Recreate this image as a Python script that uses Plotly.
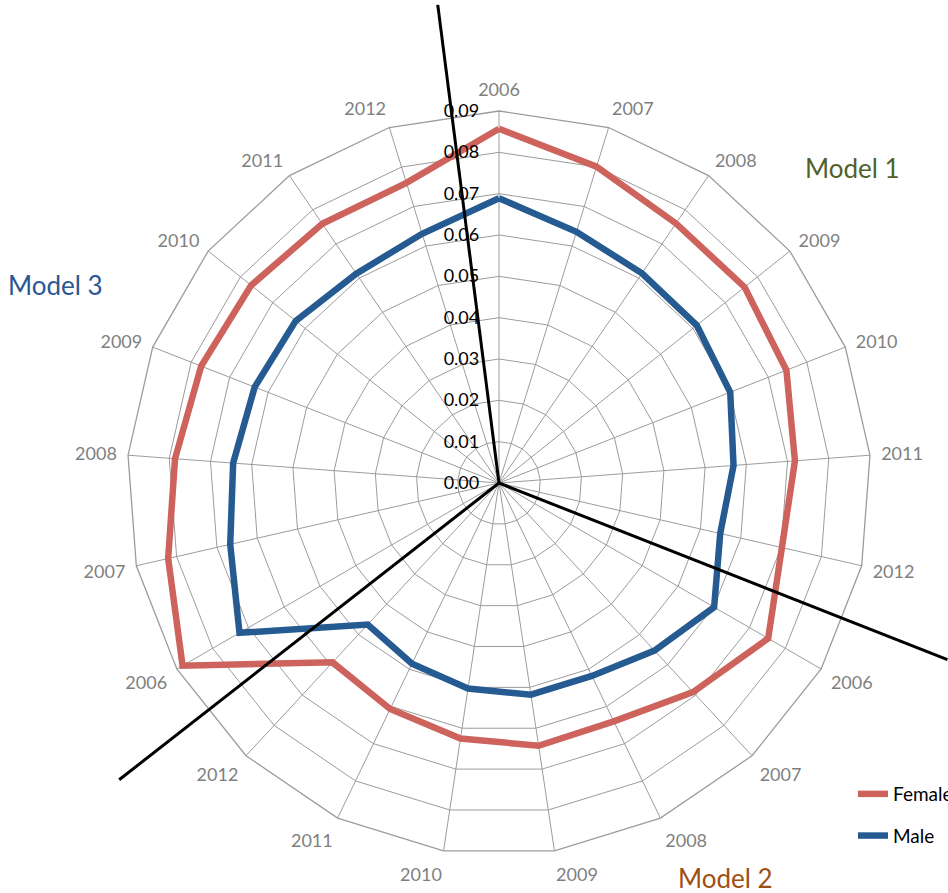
import math
import plotly.graph_objects as go

# Three models, each reported for the years 2006-2012, laid out clockwise
models = ["Model 1", "Model 2", "Model 3"]
years = ["2006", "2007", "2008", "2009", "2010", "2011", "2012"]

female = [0.0857, 0.0801, 0.0760, 0.0760, 0.0747, 0.0718, 0.0702,
          0.0752, 0.0690, 0.0640, 0.0643, 0.0625, 0.0607, 0.0592,
          0.0884, 0.0821, 0.0786, 0.0774, 0.0767, 0.0759, 0.0760]
male = [0.0689, 0.0636, 0.0614, 0.0612, 0.0601, 0.0569, 0.0549,
        0.0601, 0.0553, 0.0518, 0.0518, 0.0503, 0.0485, 0.0467,
        0.0725, 0.0667, 0.0645, 0.0635, 0.0629, 0.0613, 0.0631]

# Divider lines between model sections (degrees clockwise from 12 o'clock)
divider_angles = [-7.3, 111.5, 232.0]

model_colors = ["#4F6228", "#9E4F12", "#2A5794"]

# unique category per spoke, displayed as the year only
categories = [f"{m} {y}" for m in models for y in years]
tick_text = [y for m in models for y in years]

W, H = 948, 893
CX, CY, R = 499, 483, 372          # centre and outer radius of the web, px
FONT = "Lato, 'Open Sans', sans-serif"

fig = go.Figure()
fig.add_trace(go.Scatterpolar(
    r=female + female[:1], theta=categories + categories[:1],
    mode="lines", name="Female", legendgroup="f",
    line=dict(color="#CD635C", width=6.5),
))
fig.add_trace(go.Scatterpolar(
    r=male + male[:1], theta=categories + categories[:1],
    mode="lines", name="Male", legendgroup="m",
    line=dict(color="#265B91", width=6.5),
))

grid = "#9C9C9C"
fig.update_layout(
    width=W, height=H,
    margin=dict(l=0, r=0, t=0, b=0, autoexpand=False),
    paper_bgcolor="white",
    font=dict(family=FONT),
    polar=dict(
        domain=dict(x=[(CX - R) / W, (CX + R) / W],
                    y=[(H - CY - R) / H, (H - CY + R) / H]),
        bgcolor="white",
        gridshape="linear",
        angularaxis=dict(
            type="category", categoryorder="array", categoryarray=categories,
            rotation=90, direction="clockwise",
            tickmode="array", tickvals=categories, ticktext=tick_text,
            tickfont=dict(size=18, color="#7F7F7F", family=FONT),
            ticks="outside", ticklen=7, tickcolor="rgba(0,0,0,0)",
            showline=True, linecolor=grid, linewidth=1.3,
            gridcolor=grid, gridwidth=1.3,
        ),
        radialaxis=dict(
            range=[0, 0.09], dtick=0.01, tickformat=".2f",
            angle=90, side="counterclockwise", tickangle=90,
            tickfont=dict(size=18, color="black", family=FONT),
            ticks="outside", ticklen=13, tickcolor="rgba(0,0,0,0)",
            showline=False,
            gridcolor=grid, gridwidth=1.3,
        ),
    ),
    legend=dict(
        x=853 / W, y=(H - 775) / H, xanchor="left", yanchor="top",
        font=dict(size=19, color="black", family=FONT),
        traceorder="grouped", tracegroupgap=14,
        bgcolor="rgba(0,0,0,0)",
    ),
)

# divider lines from the centre outward
for ang in divider_angles:
    a = math.radians(ang)
    length = 482
    x1 = CX + length * math.sin(a)
    y1 = CY - length * math.cos(a)
    fig.add_shape(
        type="line", xref="paper", yref="paper", layer="above",
        x0=CX / W, y0=(H - CY) / H, x1=x1 / W, y1=(H - y1) / H,
        line=dict(color="black", width=3),
    )

# section titles
label_pos = [(852, 168), (725, 878), (55, 285)]
for name, color, (px, py) in zip(models, model_colors, label_pos):
    fig.add_annotation(
        text=name, xref="paper", yref="paper", x=px / W, y=(H - py) / H,
        showarrow=False, xanchor="center", yanchor="middle",
        font=dict(size=26, color=color, family=FONT),
    )

fig.write_html("out.html")
